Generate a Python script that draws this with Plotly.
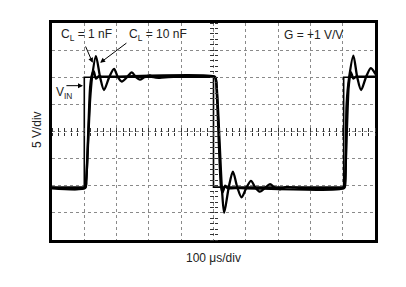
import plotly.graph_objects as go

# ---- data (x in divisions of 100 us, y in divisions of 5 V) ----
vin_t = [0.0, 1.0, 1.0, 5.0, 5.0, 9.03, 9.03, 10.2]
vin_v = [-2.05, -2.05, 2.0, 2.0, -2.05, -2.05, 2.0, 2.0]

c1_t = [0.0, 1.02, 1.06, 1.18, 1.23, 1.29, 1.36, 1.45, 1.55, 2.0,
        5.04, 5.08, 5.23, 5.28, 5.36, 5.45, 5.55, 6.0,
        9.04, 9.07, 9.18, 9.25, 9.33, 9.42, 9.5, 10.2]
c1_v = [-2.09, -2.09, -1.8, 1.6, 2.05, 2.22, 1.95, 2.04, 2.02, 2.02,
        2.02, 1.85, -2.0, -2.25, -2.0, -2.1, -2.09, -2.09,
        -2.09, -1.85, 1.6, 2.2, 1.95, 2.03, 2.02, 2.02]

c10_t = [0.0, 1.03, 1.06, 1.18, 1.24, 1.36, 1.49, 1.61, 1.77, 1.92, 2.04,
         2.16, 2.32, 2.47, 2.6, 2.72, 2.86, 3.02, 3.15, 3.3, 3.5, 5.05,
         5.08, 5.26, 5.33, 5.47, 5.6, 5.74, 5.87, 6.02, 6.16, 6.3, 6.44,
         6.6, 6.75, 6.9, 7.06, 7.25, 7.5, 9.05,
         9.08, 9.12, 9.2, 9.33, 9.45, 9.57, 9.72, 9.87, 10.0, 10.1]
c10_v = [-2.07, -2.07, -1.79, 1.16, 2.0, 2.78, 2.0, 1.53, 2.0, 2.31, 2.0,
         1.84, 2.0, 2.18, 2.0, 1.91, 2.0, 2.07, 2.0, 1.98, 2.0, 2.0,
         1.9, -2.1, -3.0, -2.07, -1.48, -2.07, -2.43, -2.07, -1.82, -2.07, -2.22,
         -2.07, -1.94, -2.07, -2.13, -2.05, -2.07, -2.07,
         -1.9, 0.98, 2.0, 2.8, 2.0, 1.53, 2.0, 2.34, 2.15, 1.9]

minor_ticks = [i * 0.2 for i in range(51)]
minor_ticks_y = [-4 + i * 0.2 for i in range(41)]

FONT = "Liberation Sans, Arial, sans-serif"
TXT = "#222222"

fig = go.Figure()
fig.add_trace(go.Scatter(x=vin_t, y=vin_v, mode="lines",
                         line=dict(color="black", width=1.6), showlegend=False))
fig.add_trace(go.Scatter(x=c1_t, y=c1_v, mode="lines",
                         line=dict(color="black", width=2.4, shape="spline", smoothing=0.6),
                         showlegend=False))
fig.add_trace(go.Scatter(x=c10_t, y=c10_v, mode="lines",
                         line=dict(color="black", width=2.3, shape="spline", smoothing=0.8),
                         showlegend=False))
# dummy traces so the centre tick axes are drawn
fig.add_trace(go.Scatter(x=[None], y=[None], xaxis="x2", yaxis="y2", showlegend=False))
fig.add_trace(go.Scatter(x=[None], y=[None], xaxis="x3", yaxis="y3", showlegend=False))

grid = dict(showgrid=True, gridcolor="#8a8a8a", gridwidth=1, griddash="dot",
            zeroline=False, showticklabels=False, ticks="",
            showline=True, mirror=True, linecolor="black", linewidth=2.8)
tickax = dict(anchor="free", position=0.5, tickmode="array",
              ticks="outside", ticklen=3.5, tickwidth=1, tickcolor="#333",
              showticklabels=False, showgrid=False, zeroline=False, showline=False)
fig.update_layout(
    width=406, height=287,
    margin=dict(l=52, r=31, t=23, b=47),
    paper_bgcolor="white", plot_bgcolor="white",
    font=dict(family=FONT, size=12, color=TXT),
    xaxis=dict(range=[0, 10], dtick=1, tick0=0, **grid),
    yaxis=dict(range=[-4, 4], dtick=1, tick0=0, **grid),
    xaxis2=dict(overlaying="x", side="bottom", range=[0, 10], tickvals=minor_ticks, **tickax),
    xaxis3=dict(overlaying="x", side="top", range=[0, 10], tickvals=minor_ticks, **tickax),
    yaxis2=dict(overlaying="y", side="left", range=[-4, 4], tickvals=minor_ticks_y, **tickax),
    yaxis3=dict(overlaying="y", side="right", range=[-4, 4], tickvals=minor_ticks_y, **tickax),
)

def label(text, x, y):
    fig.add_annotation(x=x, y=y, xref="x", yref="y", text=text, showarrow=False,
                       xanchor="center", yanchor="middle",
                       font=dict(family=FONT, size=12, color=TXT))

def arrow(x0, y0, x1, y1):
    fig.add_annotation(x=x1, y=y1, ax=x0, ay=y0, xref="x", yref="y",
                       axref="x", ayref="y", text="", showarrow=True,
                       arrowhead=2, arrowsize=1, arrowwidth=1, arrowcolor="black")

label("C<sub>L</sub> = 1 nF", 1.07, 3.56)
label("C<sub>L</sub> = 10 nF", 3.27, 3.56)
label("G = +1 V/V", 8.11, 3.56)
label("V<sub>IN</sub>", 0.37, 1.42)
arrow(1.02, 3.19, 1.26, 2.53)
arrow(2.35, 3.30, 1.49, 2.53)
arrow(0.40, 1.69, 0.96, 1.69)

fig.add_annotation(x=-0.046, y=0.507, xref="paper", yref="paper", text="5 V/div",
                   xanchor="center", yanchor="middle",
                   textangle=-90, showarrow=False, font=dict(family=FONT, size=12, color=TXT))
fig.add_annotation(x=0.5, y=-0.083, xref="paper", yref="paper", text="100 μs/div",
                   xanchor="center", yanchor="middle",
                   showarrow=False, font=dict(family=FONT, size=12, color=TXT))

fig.write_html("out.html")
